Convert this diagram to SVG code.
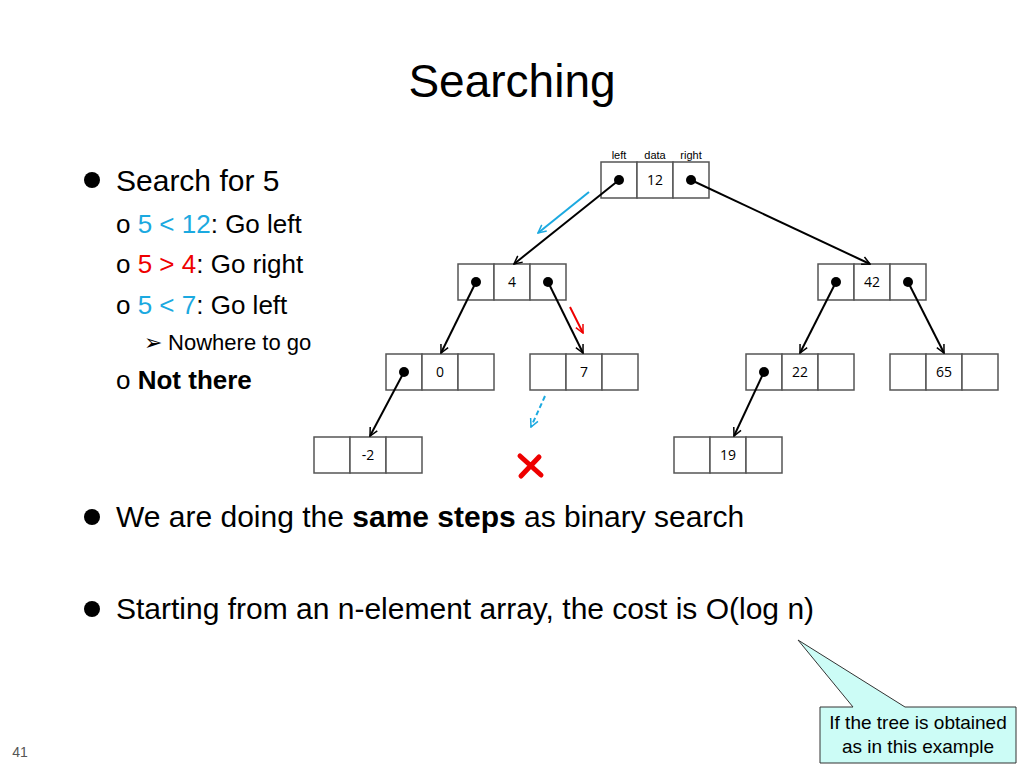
<svg xmlns="http://www.w3.org/2000/svg" width="1024" height="768" viewBox="0 0 1024 768">
<defs>
<style>
.c{fill:#fff;stroke:#555;stroke-width:1.5}
.v{font-family:"Open Sans","Liberation Sans",sans-serif;font-size:14px;text-anchor:middle}
.t{font-family:"Liberation Sans",Arial,sans-serif;fill:#000}
.e{stroke:#000;stroke-width:2;fill:none;marker-end:url(#a)}
</style>
<marker id="a" markerWidth="10" markerHeight="10" refX="9" refY="5" orient="auto" markerUnits="userSpaceOnUse"><path d="M1,1 L9,5 L1,9" fill="none" stroke="#000" stroke-width="1.5"/></marker>
<marker id="ab" markerWidth="10" markerHeight="10" refX="9" refY="5" orient="auto" markerUnits="userSpaceOnUse"><path d="M1,1 L9,5 L1,9" fill="none" stroke="#1ba9e0" stroke-width="1.5"/></marker>
<marker id="ar" markerWidth="10" markerHeight="10" refX="9" refY="5" orient="auto" markerUnits="userSpaceOnUse"><path d="M1,1 L9,5 L1,9" fill="none" stroke="#e00" stroke-width="1.5"/></marker>
</defs>
<rect width="1024" height="768" fill="#fff"/>
<text class="t" x="512" y="97" font-size="46" text-anchor="middle">Searching</text>
<g class="t" font-size="30">
<circle cx="92" cy="180" r="8"/>
<text x="116" y="191">Search for 5</text>
<text x="116" y="233" font-size="26"><tspan>o </tspan><tspan fill="#1ba9e0">5 &lt; 12</tspan>: Go left</text>
<text x="116" y="273" font-size="26"><tspan>o </tspan><tspan fill="#e00">5 &gt; 4</tspan>: Go right</text>
<text x="116" y="314" font-size="26"><tspan>o </tspan><tspan fill="#1ba9e0">5 &lt; 7</tspan>: Go left</text>
<text x="144" y="350" font-size="22">➢ Nowhere to go</text>
<text x="116" y="389" font-size="26">o <tspan font-weight="bold">Not there</tspan></text>
<circle cx="92" cy="517" r="8"/>
<text x="116" y="527">We are doing the <tspan font-weight="bold">same steps</tspan> as binary search</text>
<circle cx="92" cy="609" r="8"/>
<text x="116" y="619">Starting from an n-element array, the cost is O(log n)</text>
</g>
<g class="t" font-size="11" text-anchor="middle"><text x="619" y="159">left</text><text x="655" y="159">data</text><text x="691" y="159">right</text></g>
<g id="n12"><rect class="c" x="601" y="162" width="36" height="36"/><rect class="c" x="637" y="162" width="36" height="36"/><rect class="c" x="673" y="162" width="36" height="36"/><text class="v" x="655" y="185">12</text><circle cx="619" cy="180" r="5"/><circle cx="691" cy="180" r="5"/></g>
<g id="n4"><rect class="c" x="458" y="264" width="36" height="36"/><rect class="c" x="494" y="264" width="36" height="36"/><rect class="c" x="530" y="264" width="36" height="36"/><text class="v" x="512" y="287">4</text><circle cx="476" cy="282" r="5"/><circle cx="548" cy="282" r="5"/></g>
<g id="n42"><rect class="c" x="818" y="264" width="36" height="36"/><rect class="c" x="854" y="264" width="36" height="36"/><rect class="c" x="890" y="264" width="36" height="36"/><text class="v" x="872" y="287">42</text><circle cx="836" cy="282" r="5"/><circle cx="908" cy="282" r="5"/></g>
<g id="n0"><rect class="c" x="386" y="354" width="36" height="36"/><rect class="c" x="422" y="354" width="36" height="36"/><rect class="c" x="458" y="354" width="36" height="36"/><text class="v" x="440" y="377">0</text><circle cx="404" cy="372" r="5"/></g>
<g id="n7"><rect class="c" x="530" y="354" width="36" height="36"/><rect class="c" x="566" y="354" width="36" height="36"/><rect class="c" x="602" y="354" width="36" height="36"/><text class="v" x="584" y="377">7</text></g>
<g id="n22"><rect class="c" x="746" y="354" width="36" height="36"/><rect class="c" x="782" y="354" width="36" height="36"/><rect class="c" x="818" y="354" width="36" height="36"/><text class="v" x="800" y="377">22</text><circle cx="764" cy="372" r="5"/></g>
<g id="n65"><rect class="c" x="890" y="354" width="36" height="36"/><rect class="c" x="926" y="354" width="36" height="36"/><rect class="c" x="962" y="354" width="36" height="36"/><text class="v" x="944" y="377">65</text></g>
<g id="nm2"><rect class="c" x="314" y="437" width="36" height="36"/><rect class="c" x="350" y="437" width="36" height="36"/><rect class="c" x="386" y="437" width="36" height="36"/><text class="v" x="368" y="460">-2</text></g>
<g id="n19"><rect class="c" x="674" y="437" width="36" height="36"/><rect class="c" x="710" y="437" width="36" height="36"/><rect class="c" x="746" y="437" width="36" height="36"/><text class="v" x="728" y="460">19</text></g>
<g id="edges">
<line class="e" x1="619" y1="180" x2="514" y2="264"/>
<line class="e" x1="691" y1="180" x2="870" y2="264"/>
<line class="e" x1="476" y1="282" x2="441" y2="353"/>
<line class="e" x1="548" y1="282" x2="583" y2="353"/>
<line class="e" x1="836" y1="282" x2="800" y2="353"/>
<line class="e" x1="908" y1="282" x2="944" y2="353"/>
<line class="e" x1="404" y1="372" x2="370" y2="436"/>
<line class="e" x1="764" y1="372" x2="734" y2="436"/>
<line x1="589" y1="192" x2="538" y2="233" stroke="#1ba9e0" stroke-width="2" marker-end="url(#ab)"/>
<line x1="570" y1="307" x2="583" y2="333" stroke="#e00" stroke-width="2" marker-end="url(#ar)"/>
<line x1="545" y1="396" x2="531" y2="427" stroke="#1ba9e0" stroke-width="2" stroke-dasharray="5,3" marker-end="url(#ab)"/>
</g>
<path d="M520,456 L541,475 M539,457 L521,476" stroke="#e00" stroke-width="5" stroke-linecap="round"/>
<g id="callout">
<path d="M820,707 L853,707 L798,640 L905,707 L1016,707 L1016,763 L820,763 Z" fill="#ccfcf6" stroke="#333" stroke-width="1"/>
<text class="t" x="918" y="729" font-size="19" text-anchor="middle">If the tree is obtained</text>
<text class="t" x="918" y="753" font-size="19" text-anchor="middle">as in this example</text>
</g>
<text x="20" y="757" font-family="Liberation Sans,sans-serif" font-size="14" fill="#555" text-anchor="middle">41</text>
</svg>
